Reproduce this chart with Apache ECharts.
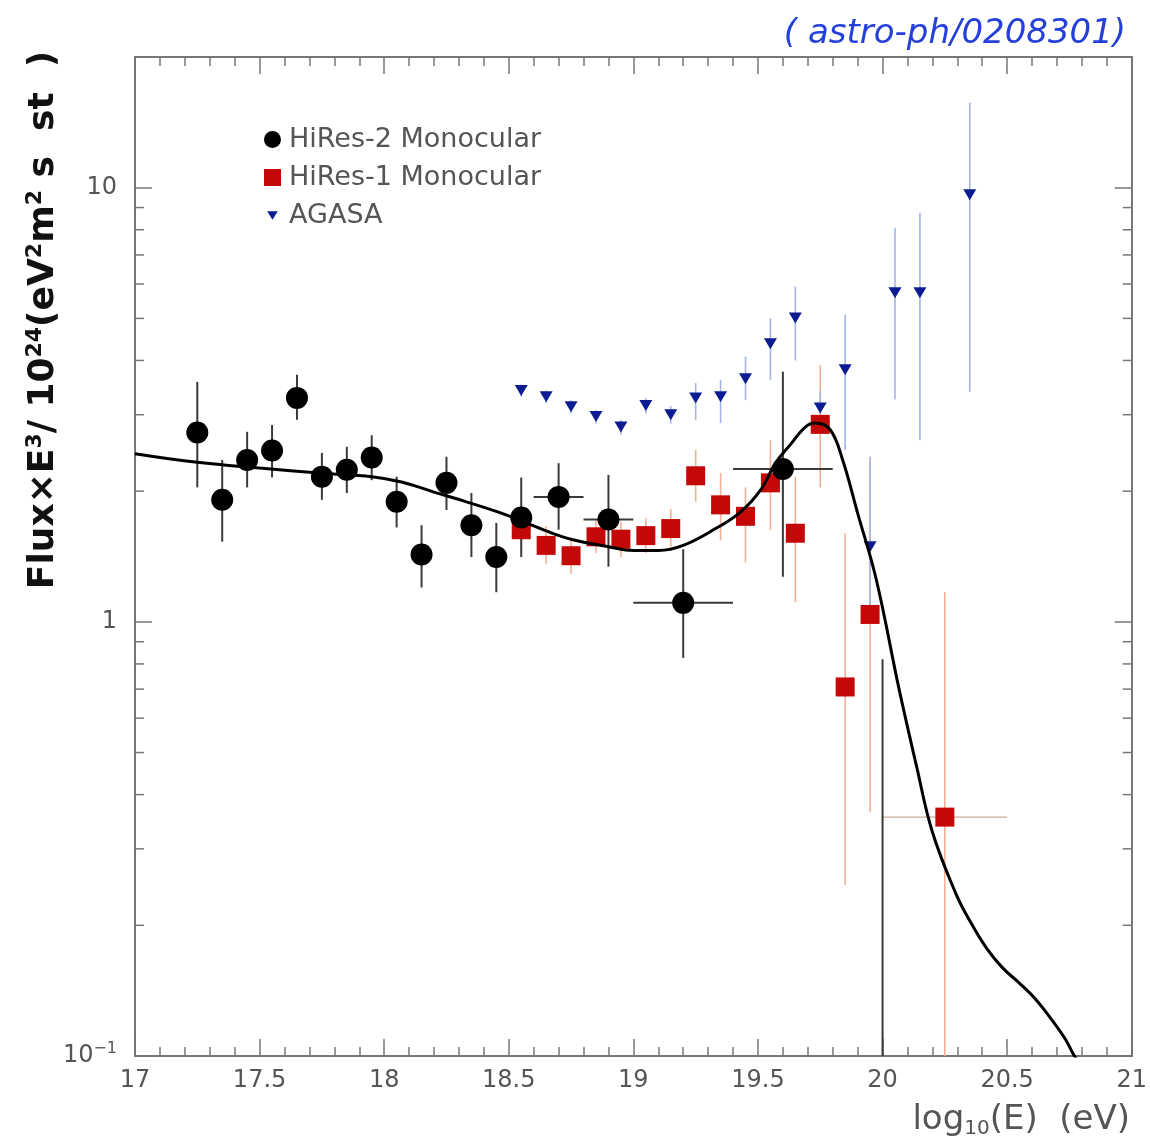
<!DOCTYPE html>
<html><head><meta charset="utf-8">
<script src="https://cdn.jsdelivr.net/npm/echarts/dist/echarts.min.js"></script>
<style>html,body{margin:0;padding:0;background:#fff}#c{width:1150px;height:1142px}</style>
</head><body><div id="c"></div>
<script>
// ---- data (log10 E, flux*E^3 / 1e24) ----
const hr2X  = [17.25,17.35,17.45,17.55,17.65,17.75,17.85,17.95,18.05,18.15,18.25,18.35,18.45,18.55,18.7,18.9,19.2,19.6,20.0];
const hr2Y  = [2.73,1.91,2.36,2.48,3.28,2.16,2.24,2.39,1.89,1.43,2.09,1.67,1.41,1.74,1.94,1.72,1.106,2.25,0.05];
const hr2Lo = [2.04,1.53,2.04,2.15,2.92,1.91,1.98,2.12,1.65,1.20,1.81,1.41,1.17,1.41,1.63,1.34,0.826,1.27,0.01];
const hr2Hi = [3.57,2.36,2.74,2.84,3.71,2.45,2.53,2.69,2.16,1.67,2.40,1.98,1.69,2.15,2.32,2.18,1.47,3.77,0.82];
const hr2XLo= [17.25,17.35,17.45,17.55,17.65,17.75,17.85,17.95,18.05,18.15,18.25,18.35,18.45,18.55,18.6,18.8,19.0,19.4,20.0];
const hr2XHi= [17.25,17.35,17.45,17.55,17.65,17.75,17.85,17.95,18.05,18.15,18.25,18.35,18.45,18.55,18.8,19.0,19.4,19.8,20.0];

const hr1X  = [18.55,18.65,18.75,18.85,18.95,19.05,19.15,19.25,19.35,19.45,19.55,19.65,19.75,19.85,19.95,20.25];
const hr1Y  = [1.63,1.50,1.42,1.57,1.55,1.58,1.64,2.17,1.86,1.75,2.09,1.60,2.85,0.708,1.04,0.355];
const hr1Lo = [1.45,1.36,1.29,1.44,1.41,1.44,1.49,1.89,1.54,1.37,1.63,1.11,2.04,0.248,0.365,0.01];
const hr1Hi = [1.82,1.66,1.56,1.72,1.70,1.73,1.82,2.49,2.20,2.04,2.62,2.16,3.90,1.60,2.40,1.17];
const hr1XLo= [18.55,18.65,18.75,18.85,18.95,19.05,19.15,19.25,19.35,19.45,19.55,19.65,19.75,19.85,19.95,20.0];
const hr1XHi= [18.55,18.65,18.75,18.85,18.95,19.05,19.15,19.25,19.35,19.45,19.55,19.65,19.75,19.85,19.95,20.5];

const agX  = [18.55,18.65,18.75,18.85,18.95,19.05,19.15,19.25,19.35,19.45,19.55,19.65,19.75,19.85,19.95,20.05,20.15,20.35];
const agY  = [3.41,3.30,3.13,2.97,2.81,3.15,3.00,3.28,3.30,3.63,4.37,5.01,3.11,3.81,1.49,5.73,5.73,9.63];
const agLo = [3.30,3.19,3.02,2.86,2.70,3.02,2.86,2.92,2.87,3.24,3.61,4.00,2.90,2.49,1.00,3.25,2.62,3.39];
const agHi = [3.52,3.41,3.24,3.08,2.92,3.28,3.14,3.55,3.61,4.08,5.00,5.92,3.40,5.10,2.40,8.09,8.75,15.7];

const fitX = [17.0,17.25,17.5,17.75,17.95,18.07,18.2,18.33,18.47,18.56,18.65,18.75,18.9,19.0,19.1,19.2,19.33,19.43,19.51,19.57,19.63,19.69,19.73,19.79,19.84,19.9,19.975,20.067,20.135,20.2,20.295,20.35,20.415,20.48,20.55,20.615,20.68,20.735,20.77,20.8];
const fitY = [2.44,2.33,2.26,2.20,2.16,2.10,1.99,1.89,1.78,1.70,1.62,1.55,1.49,1.46,1.46,1.50,1.64,1.79,2.01,2.32,2.56,2.81,2.87,2.77,2.36,1.78,1.25,0.697,0.469,0.328,0.236,0.205,0.178,0.160,0.147,0.135,0.121,0.109,0.100,0.095];

const yMajorLabels = {'0.1':'{a|10}{s|−1}', '1':'1', '10':'10'};
const yMinorTicks = [0.2,0.3,0.4,0.5,0.6,0.7,0.8,0.9,2,3,4,5,6,7,8,9];
const xMin = 17, xMax = 21, yMin = 0.1, yMax = 20;

const FONT = 'DejaVu Sans';
const GREY = '#555';
const AXIS = '#777';

function pack(x, y, lo, hi, xl, xh){ return x.map((v,i)=>[v, y[i], lo[i], hi[i], xl?xl[i]:v, xh?xh[i]:v]); }
const clampY = v => Math.max(yMin, Math.min(yMax, v));

function errRender(color, width, hColor){
  return function(params, api){
    const x = api.value(0), lo = clampY(api.value(2)), hi = clampY(api.value(3));
    const xl = api.value(4), xh = api.value(5), y = api.value(1);
    const ch = [];
    const a = api.coord([x, lo]), b = api.coord([x, hi]);
    ch.push({type:'line', shape:{x1:a[0],y1:a[1],x2:b[0],y2:b[1]}, style:{stroke:color, lineWidth:width}});
    if (xh > xl && y >= yMin) {
      const c = api.coord([xl, y]), d = api.coord([xh, y]);
      ch.push({type:'line', shape:{x1:c[0],y1:c[1],x2:d[0],y2:d[1]}, style:{stroke:hColor||color, lineWidth:width}});
    }
    return {type:'group', children:ch};
  };
}

const triPath = 'path://M0,0L0.01,0M16,16L16.01,16M3,4L13,4L8,12Z';

const chart = echarts.init(document.getElementById('c'), null, {renderer:'canvas'});
const xAxisBase = {
  type:'value', min:xMin, max:xMax, interval:0.5,
  axisLine:{show:true, onZero:false, lineStyle:{color:AXIS, width:2}},
  axisTick:{show:true, inside:true, length:17, lineStyle:{color:AXIS, width:1.5}},
  minorTick:{show:true, splitNumber:5, length:9, lineStyle:{color:AXIS, width:1.5}},
  splitLine:{show:false}
};
const yAxisBase = {
  type:'log', logBase:10, min:yMin, max:yMax,
  axisLine:{show:true, onZero:false, lineStyle:{color:AXIS, width:2}},
  axisTick:{show:true, inside:true, length:17, lineStyle:{color:AXIS, width:1.5}},
  minorTick:{show:false},
  splitLine:{show:false}
};

chart.setOption({
  animation:false,
  backgroundColor:'#fff',
  grid:{left:135, right:17, top:57, bottom:86},
  xAxis:[
    Object.assign({}, xAxisBase, {position:'bottom',
      axisLabel:{show:true, margin:13, color:GREY, fontFamily:FONT, fontSize:24,
        formatter: v => String(v)}}),
    Object.assign({}, xAxisBase, {position:'top', axisLabel:{show:false}})
  ],
  yAxis:[
    Object.assign({}, yAxisBase, {position:'left',
      axisLabel:{show:true, margin:18, color:GREY, fontFamily:FONT, fontSize:24,
        formatter: v => { for (const k in yMajorLabels) if (Math.abs(v - Number(k)) < 1e-9*Math.max(1,v)) return yMajorLabels[k]; return ''; },
        rich:{a:{fontFamily:FONT, fontSize:24, color:GREY}, s:{fontFamily:FONT, fontSize:16, color:GREY, verticalAlign:'top', padding:[0,0,14,0]}}}}),
    Object.assign({}, yAxisBase, {position:'right', axisLabel:{show:false}})
  ],
  legend:{
    orient:'vertical', left:264, top:126, padding:0, itemWidth:17, itemHeight:17, itemGap:11,
    textStyle:{color:GREY, fontFamily:FONT, fontSize:27, lineHeight:24, padding:[0,0,0,3]},
    data:[{name:'HiRes-2 Monocular', icon:'circle'}, {name:'HiRes-1 Monocular', icon:'rect'}, {name:'AGASA', icon:triPath}]
  },
  graphic:[
    {type:'text', x:44, y:320, rotation:Math.PI/2,
      style:{text:'{m|Flux×E}{p|3}{m|/ 10}{p|24}{m|(eV}{p|2}{m|m}{p|2}{m| s  st  )}', align:'center', verticalAlign:'middle',
        rich:{m:{fontFamily:FONT, fontSize:36, fontWeight:'bold', fill:'#111'}, p:{fontFamily:FONT, fontSize:22, fontWeight:'bold', fill:'#111', verticalAlign:'top', padding:[0,0,17,0]}}}},
    {type:'text', x:1130, y:1120,
      style:{text:'log{b|10}(E)  (eV)', align:'right', verticalAlign:'middle', fontFamily:FONT, fontSize:34, fill:GREY,
        rich:{b:{fontFamily:FONT, fontSize:20, fill:GREY, verticalAlign:'bottom', padding:[17,0,0,0]}}}},
    {type:'text', x:955, y:34,
      style:{text:'( astro-ph/0208301)', align:'center', verticalAlign:'middle', fontFamily:FONT, fontStyle:'italic', fontSize:34, fill:'#2440d8'}}
  ],
  series:[
    {type:'custom', name:'tickMinor', silent:true, z:1, renderItem:(p, api)=>{
        const v = api.value(0); const l = api.coord([xMin, v]); const r = api.coord([xMax, v]);
        return {type:'group', children:[
          {type:'line', shape:{x1:l[0], y1:l[1], x2:l[0]+9, y2:l[1]}, style:{stroke:AXIS, lineWidth:1.5}},
          {type:'line', shape:{x1:r[0], y1:r[1], x2:r[0]-9, y2:r[1]}, style:{stroke:AXIS, lineWidth:1.5}}]};
      }, encode:{x:-1, y:0}, data: yMinorTicks.map(v=>[v])},
    {type:'custom', name:'hr1err', silent:true, z:2, renderItem: errRender('#f3b094', 1.6, '#d9c2b6'), encode:{x:0, y:1}, data: pack(hr1X, hr1Y, hr1Lo, hr1Hi, hr1XLo, hr1XHi)},
    {type:'custom', name:'agerr', silent:true, z:2, renderItem: errRender('#a3b5e8', 1.6), encode:{x:0, y:1}, data: pack(agX, agY, agLo, agHi)},
    {type:'custom', name:'hr2err', silent:true, z:3, renderItem: errRender('#3a3a3a', 2), encode:{x:0, y:1}, data: pack(hr2X, hr2Y, hr2Lo, hr2Hi, hr2XLo, hr2XHi)},
    {type:'scatter', name:'HiRes-1 Monocular', z:4, symbol:'rect', symbolSize:19, itemStyle:{color:'#c40808', opacity:1}, data: hr1X.map((v,i)=>[v, hr1Y[i]])},
    {type:'scatter', name:'AGASA', z:4, symbol:'triangle', symbolRotate:180, symbolSize:[13,11], itemStyle:{color:'#0b1c92', opacity:1}, data: agX.map((v,i)=>[v, agY[i]])},
    {type:'scatter', name:'HiRes-2 Monocular', z:5, symbol:'circle', symbolSize:22, itemStyle:{color:'#000', opacity:1}, data: hr2X.map((v,i)=>[v, hr2Y[i]])},
    {type:'line', name:'fit', z:6, smooth:0.4, showSymbol:false, symbol:'none', silent:true,
      lineStyle:{color:'#000', width:3}, data: fitX.map((v,i)=>[v, fitY[i]])}
  ]
});
</script></body></html>
